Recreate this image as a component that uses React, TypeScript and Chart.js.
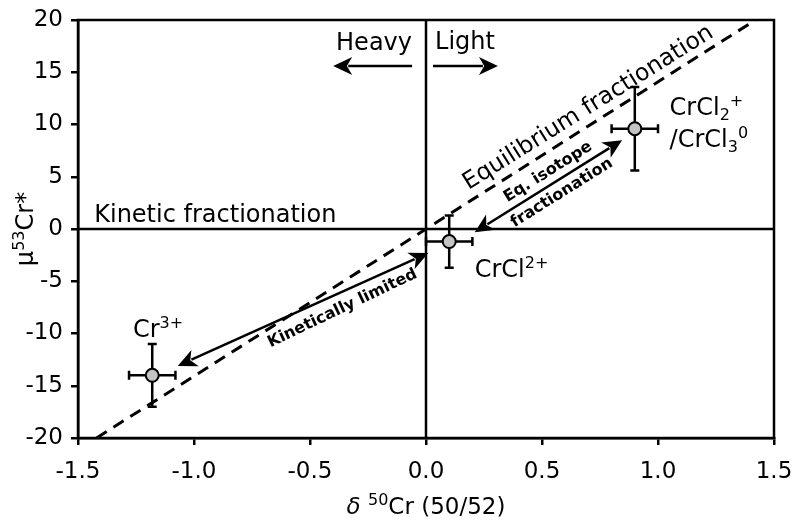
import React, { useEffect, useRef } from "react";
import { Chart, registerables } from "chart.js";

Chart.register(...registerables);

// ---- data ----
const speciesNames = ["Cr3+", "CrCl2+", "CrCl2+/CrCl3 0"];
const delta50 = [-1.18, 0.1, 0.9];
const mu53 = [-14.0, -1.2, 9.6];
const delta50Err = [0.1, 0.1, 0.1];
const mu53Err = [3.0, 2.5, 4.0];

const xTicks = [-1.5, -1.0, -0.5, 0.0, 0.5, 1.0, 1.5];
const yTicks = [-20, -15, -10, -5, 0, 5, 10, 15, 20];

// equilibrium fractionation (dashed) line end points
const eqLineX = [-1.42, 1.42];
const eqLineY = [-20, 20];

// arrows: [x1, y1, x2, y2]
const heavyArrow = [-0.06, 15.6, -0.4, 15.6];
const lightArrow = [0.03, 15.6, 0.31, 15.6];
const kineticArrow = [-1.07, -13.1, 0.01, -2.3];
const eqArrow = [0.21, -0.3, 0.845, 8.5];

const FONT = "'DejaVu Sans', 'Liberation Sans', sans-serif";

type Seg = { t: string; v?: "sup" | "sub"; it?: boolean; bold?: boolean };

function segFont(s: Seg, size: number) {
  const fs = s.v ? Math.round(size * 0.68) : size;
  return `${s.it ? "italic " : ""}${s.bold ? "bold " : ""}${fs}px ${FONT}`;
}

function drawRich(
  ctx: CanvasRenderingContext2D,
  segs: Seg[],
  x: number,
  y: number,
  size: number,
  align: "left" | "center" | "right"
) {
  ctx.save();
  ctx.textBaseline = "alphabetic";
  ctx.textAlign = "left";
  let total = 0;
  const widths = segs.map((s) => {
    ctx.font = segFont(s, size);
    const w = ctx.measureText(s.t).width;
    total += w;
    return w;
  });
  let cx = align === "left" ? x : align === "center" ? x - total / 2 : x - total;
  segs.forEach((s, i) => {
    ctx.font = segFont(s, size);
    const dy = s.v === "sup" ? -size * 0.38 : s.v === "sub" ? size * 0.22 : 0;
    ctx.fillText(s.t, cx, y + dy);
    cx += widths[i];
  });
  ctx.restore();
}

function drawArrow(
  ctx: CanvasRenderingContext2D,
  x1: number,
  y1: number,
  x2: number,
  y2: number,
  headStart: boolean,
  headEnd: boolean,
  lw: number
) {
  const L = 19;
  const W = 9;
  const ang = Math.atan2(y2 - y1, x2 - x1);
  const ux = Math.cos(ang);
  const uy = Math.sin(ang);
  const sx = headStart ? x1 + ux * (L - 4) : x1;
  const sy = headStart ? y1 + uy * (L - 4) : y1;
  const ex = headEnd ? x2 - ux * (L - 4) : x2;
  const ey = headEnd ? y2 - uy * (L - 4) : y2;
  ctx.save();
  ctx.strokeStyle = "#000";
  ctx.fillStyle = "#000";
  ctx.lineWidth = lw;
  ctx.beginPath();
  ctx.moveTo(sx, sy);
  ctx.lineTo(ex, ey);
  ctx.stroke();
  const head = (tx: number, ty: number, dx: number, dy: number) => {
    ctx.beginPath();
    ctx.moveTo(tx, ty);
    ctx.lineTo(tx - dx * L - dy * W, ty - dy * L + dx * W);
    ctx.lineTo(tx - dx * (L * 0.72), ty - dy * (L * 0.72));
    ctx.lineTo(tx - dx * L + dy * W, ty - dy * L - dx * W);
    ctx.closePath();
    ctx.fill();
  };
  if (headEnd) head(x2, y2, ux, uy);
  if (headStart) head(x1, y1, -ux, -uy);
  ctx.restore();
}

const annotPlugin = {
  id: "annot",
  beforeDatasetDraw(chart: any, args: any) {
    if (args.index !== 3) return;
    const ctx: CanvasRenderingContext2D = chart.ctx;
    const xs = chart.scales.x;
    const ys = chart.scales.y;
    ctx.save();
    ctx.strokeStyle = "#000";
    ctx.lineWidth = 2.5;
    const cap = 4.5;
    delta50.forEach((xv, i) => {
      const px = xs.getPixelForValue(xv);
      const py = ys.getPixelForValue(mu53[i]);
      const xl = xs.getPixelForValue(xv - delta50Err[i]);
      const xr = xs.getPixelForValue(xv + delta50Err[i]);
      const yt = ys.getPixelForValue(mu53[i] + mu53Err[i]);
      const yb = ys.getPixelForValue(mu53[i] - mu53Err[i]);
      ctx.beginPath();
      ctx.moveTo(xl, py);
      ctx.lineTo(xr, py);
      ctx.moveTo(xl, py - cap);
      ctx.lineTo(xl, py + cap);
      ctx.moveTo(xr, py - cap);
      ctx.lineTo(xr, py + cap);
      ctx.moveTo(px, yt);
      ctx.lineTo(px, yb);
      ctx.moveTo(px - cap, yt);
      ctx.lineTo(px + cap, yt);
      ctx.moveTo(px - cap, yb);
      ctx.lineTo(px + cap, yb);
      ctx.stroke();
    });
    ctx.restore();
  },
  afterDatasetsDraw(chart: any) {
    const ctx: CanvasRenderingContext2D = chart.ctx;
    const xs = chart.scales.x;
    const ys = chart.scales.y;
    const X = (v: number) => xs.getPixelForValue(v);
    const Y = (v: number) => ys.getPixelForValue(v);
    const a = chart.chartArea;

    // frame
    ctx.save();
    ctx.strokeStyle = "#000";
    ctx.lineWidth = 2.5;
    ctx.strokeRect(a.left, a.top, a.right - a.left, a.bottom - a.top);
    ctx.restore();

    // arrows
    drawArrow(ctx, X(heavyArrow[0]), Y(heavyArrow[1]), X(heavyArrow[2]), Y(heavyArrow[3]), false, true, 2.5);
    drawArrow(ctx, X(lightArrow[0]), Y(lightArrow[1]), X(lightArrow[2]), Y(lightArrow[3]), false, true, 2.5);
    drawArrow(ctx, X(kineticArrow[0]), Y(kineticArrow[1]), X(kineticArrow[2]), Y(kineticArrow[3]), true, true, 2.5);
    drawArrow(ctx, X(eqArrow[0]), Y(eqArrow[1]), X(eqArrow[2]), Y(eqArrow[3]), true, true, 2.5);

    ctx.fillStyle = "#000";
    // plain labels
    drawRich(ctx, [{ t: "Heavy" }], X(-0.224), Y(17.1), 24, "center");
    drawRich(ctx, [{ t: "Light" }], X(0.168), Y(17.2), 24, "center");
    drawRich(ctx, [{ t: "Kinetic fractionation" }], X(-1.43), Y(0.67), 24, "left");

    // species labels
    drawRich(ctx, [{ t: "Cr" }, { t: "3+", v: "sup" }], X(-1.155), Y(-10.3), 24, "center");
    drawRich(ctx, [{ t: "CrCl" }, { t: "2+", v: "sup" }], X(0.21), Y(-4.6), 24, "left");
    drawRich(ctx, [{ t: "CrCl" }, { t: "2", v: "sub" }, { t: "+", v: "sup" }], X(1.05), Y(10.9), 24, "left");
    drawRich(ctx, [{ t: "/CrCl" }, { t: "3", v: "sub" }, { t: "0", v: "sup" }], X(1.05), Y(7.85), 24, "left");

    // rotated labels
    const rot = (cx: number, cy: number, deg: number, fn: () => void) => {
      ctx.save();
      ctx.translate(cx, cy);
      ctx.rotate((deg * Math.PI) / 180);
      fn();
      ctx.restore();
    };
    rot(X(0.7), Y(11.6), -32, () => {
      ctx.font = `23.5px ${FONT}`;
      ctx.textAlign = "center";
      ctx.textBaseline = "middle";
      ctx.fillText("Equilibrium fractionation", 0, 0);
    });
    rot(X(-0.36), Y(-7.6), -25.5, () => {
      ctx.font = `bold 16px ${FONT}`;
      ctx.textAlign = "center";
      ctx.textBaseline = "middle";
      ctx.fillText("Kinetically limited", 0, 0);
    });
    rot(X(0.526), Y(5.45), -32, () => {
      ctx.font = `bold 16px ${FONT}`;
      ctx.textAlign = "center";
      ctx.textBaseline = "middle";
      ctx.fillText("Eq. isotope", 0, 0);
    });
    rot(X(0.586), Y(3.45), -32, () => {
      ctx.font = `bold 16px ${FONT}`;
      ctx.textAlign = "center";
      ctx.textBaseline = "middle";
      ctx.fillText("fractionation", 0, 0);
    });

    // axis titles
    drawRich(
      ctx,
      [{ t: "δ", it: true }, { t: " " }, { t: "50", v: "sup" }, { t: "Cr (50/52)" }],
      (a.left + a.right) / 2,
      514,
      23,
      "center"
    );
    ctx.save();
    ctx.translate(33, (a.top + a.bottom) / 2);
    ctx.rotate(-Math.PI / 2);
    drawRich(ctx, [{ t: "μ" }, { t: "53", v: "sup" }, { t: "Cr*" }], 0, 0, 24, "center");
    ctx.restore();
  },
};

export default function App() {
  const ref = useRef<HTMLCanvasElement | null>(null);
  useEffect(() => {
    if (!ref.current) return;
    const chart = new Chart(ref.current, {
      type: "scatter",
      data: {
        datasets: [
          {
            label: "y0",
            data: [
              { x: xTicks[0], y: 0 },
              { x: xTicks[xTicks.length - 1], y: 0 },
            ],
            showLine: true,
            borderColor: "#000",
            borderWidth: 2.5,
            pointRadius: 0,
            order: 3,
          },
          {
            label: "x0",
            data: [
              { x: 0, y: yTicks[0] },
              { x: 0, y: yTicks[yTicks.length - 1] },
            ],
            showLine: true,
            borderColor: "#000",
            borderWidth: 2.5,
            pointRadius: 0,
            order: 2,
          },
          {
            label: "eq",
            data: eqLineX.map((x, i) => ({ x, y: eqLineY[i] })),
            showLine: true,
            borderColor: "#000",
            borderWidth: 3,
            borderDash: [12, 8],
            pointRadius: 0,
            order: 1,
          },
          {
            label: "species",
            data: delta50.map((x, i) => ({ x, y: mu53[i] })),
            showLine: false,
            pointRadius: 6.5,
            pointBackgroundColor: "#c4c4c4",
            pointBorderColor: "#000",
            pointBorderWidth: 2,
            order: 0,
          },
        ],
      },
      options: {
        animation: false,
        responsive: false,
        devicePixelRatio: 1,
        layout: { padding: { left: 0, top: 20, right: 26, bottom: 0 } },
        plugins: { legend: { display: false }, tooltip: { enabled: false } },
        scales: {
          x: {
            type: "linear",
            min: xTicks[0],
            max: xTicks[xTicks.length - 1],
            afterBuildTicks: (s: any) => {
              s.ticks = xTicks.map((v) => ({ value: v }));
            },
            afterFit: (s: any) => {
              s.height = 88;
              s.paddingLeft = 0;
              s.paddingRight = 0;
            },
            grid: {
              display: true,
              drawOnChartArea: false,
              drawTicks: true,
              tickLength: 7,
              color: "#000",
              lineWidth: 2.5,
            },
            border: { display: true, color: "#000", width: 2.5 },
            ticks: {
              color: "#000",
              font: { family: FONT, size: 23 },
              padding: 13,
              maxRotation: 0,
              callback: (v: any) => Number(v).toFixed(1),
            },
          },
          y: {
            type: "linear",
            min: yTicks[0],
            max: yTicks[yTicks.length - 1],
            afterBuildTicks: (s: any) => {
              s.ticks = yTicks.map((v) => ({ value: v }));
            },
            afterFit: (s: any) => {
              s.width = 78;
              s.paddingTop = 0;
              s.paddingBottom = 0;
            },
            grid: {
              display: true,
              drawOnChartArea: false,
              drawTicks: true,
              tickLength: 7,
              color: "#000",
              lineWidth: 2.5,
            },
            border: { display: true, color: "#000", width: 2.5 },
            ticks: {
              color: "#000",
              font: { family: FONT, size: 23 },
              padding: 8,
              callback: (v: any) => String(v),
            },
          },
        },
      },
      plugins: [annotPlugin],
    } as any);
    return () => chart.destroy();
  }, []);
  return (
    <div style={{ position: "fixed", left: 0, top: 0, width: 800, height: 526, background: "#fff" }}>
      <canvas ref={ref} width={800} height={526} />
    </div>
  );
}
